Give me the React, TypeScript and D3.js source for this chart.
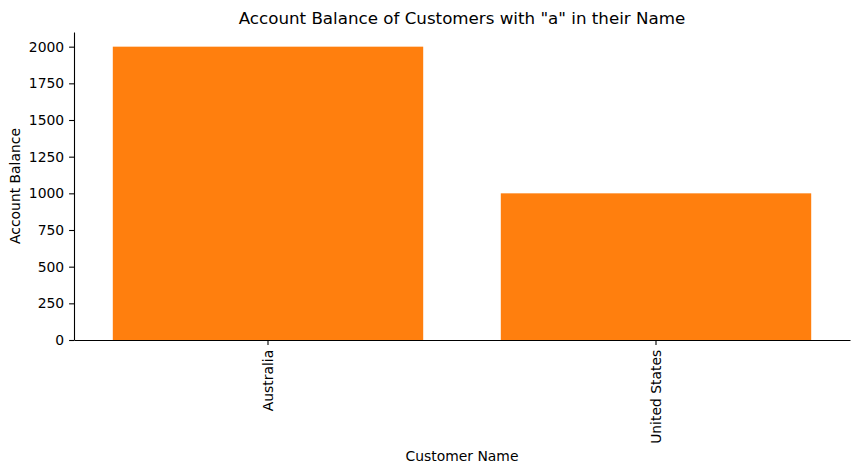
import React, { useRef, useEffect } from "react";
import * as d3 from "d3";

const customers = ["Australia", "United States"];
const balances = [2000, 1000];
const yTicks = [0, 250, 500, 750, 1000, 1250, 1500, 1750, 2000];

const App = () => {
  const ref = useRef<SVGSVGElement | null>(null);

  useEffect(() => {
    document.body.style.margin = "0";
    const width = 859;
    const height = 473;
    const margin = { top: 32, right: 9, bottom: 133, left: 74 };
    const font = "DejaVu Sans, sans-serif";

    const svg = d3.select(ref.current);
    svg.selectAll("*").remove();

    const x = d3
      .scaleBand()
      .domain(customers)
      .range([margin.left, width - margin.right])
      .paddingInner(0.2)
      .paddingOuter(0.1);

    const y = d3
      .scaleLinear()
      .domain([0, 2100])
      .range([height - margin.bottom, margin.top]);

    svg
      .append("rect")
      .attr("width", width)
      .attr("height", height)
      .attr("fill", "#ffffff");

    svg
      .append("g")
      .selectAll("rect")
      .data(customers)
      .join("rect")
      .attr("x", (d) => x(d)!)
      .attr("width", x.bandwidth())
      .attr("y", (d, i) => y(balances[i]))
      .attr("height", (d, i) => y(0) - y(balances[i]))
      .attr("fill", "#ff7f0e");

    // y axis
    const yAxis = svg
      .append("g")
      .attr("transform", `translate(${margin.left},0)`)
      .call(
        d3
          .axisLeft(y)
          .tickValues(yTicks)
          .tickFormat(d3.format("d"))
          .tickSize(4.9)
          .tickPadding(4.9)
          .tickSizeOuter(0)
      );
    yAxis.select(".domain").attr("stroke", "#000").attr("stroke-width", 1.1);
    yAxis.selectAll(".tick line").attr("stroke", "#000").attr("stroke-width", 1.1);
    yAxis
      .selectAll(".tick text")
      .attr("fill", "#000")
      .style("font-family", font)
      .style("font-size", "13.9px");

    // x axis
    const xAxis = svg
      .append("g")
      .attr("transform", `translate(0,${y(0)})`)
      .call(d3.axisBottom(x).tickSize(4.9).tickPadding(0).tickSizeOuter(0));
    xAxis.select(".domain").attr("stroke", "#000").attr("stroke-width", 1.1);
    xAxis.selectAll(".tick line").attr("stroke", "#000").attr("stroke-width", 1.1);
    xAxis
      .selectAll(".tick text")
      .attr("fill", "#000")
      .attr("transform", "rotate(-90)")
      .attr("x", -9.8)
      .attr("y", 0)
      .attr("dy", "0.35em")
      .attr("text-anchor", "end")
      .style("font-family", font)
      .style("font-size", "13.9px");

    svg
      .append("text")
      .attr("x", (margin.left + width - margin.right) / 2)
      .attr("y", 24)
      .attr("text-anchor", "middle")
      .style("font-family", font)
      .style("font-size", "16.7px")
      .text('Account Balance of Customers with "a" in their Name');

    svg
      .append("text")
      .attr("transform", `translate(20,${(margin.top + y(0)) / 2}) rotate(-90)`)
      .attr("text-anchor", "middle")
      .style("font-family", font)
      .style("font-size", "13.9px")
      .text("Account Balance");

    svg
      .append("text")
      .attr("x", (margin.left + width - margin.right) / 2)
      .attr("y", 461)
      .attr("text-anchor", "middle")
      .style("font-family", font)
      .style("font-size", "13.9px")
      .text("Customer Name");
  }, []);

  return <svg ref={ref} width={859} height={473} style={{ display: "block" }} />;
};

export default App;
